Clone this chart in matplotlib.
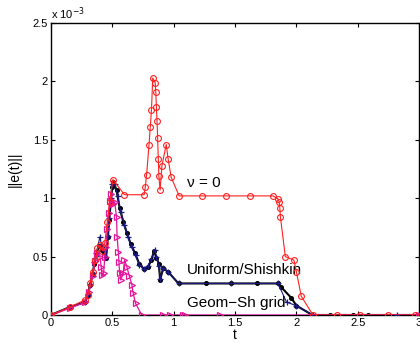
import matplotlib
matplotlib.use("Agg")
import matplotlib.pyplot as plt

# data (y in units of 1e-3)
t_red = [0, 0.16, 0.28, 0.30, 0.32, 0.34, 0.36, 0.38, 0.40, 0.42, 0.44, 0.46, 0.48, 0.505, 0.60, 0.76, 0.77, 0.78,
         0.80, 0.81, 0.82, 0.83, 0.85, 0.855, 0.86, 0.865, 0.87, 0.875, 0.88, 0.89, 0.905, 0.94, 0.955, 0.98, 1.045,
         1.23, 1.43, 1.62, 1.81, 1.85, 1.86, 1.865, 1.87, 1.91, 1.98, 2.00, 2.04, 2.135, 2.33, 2.52, 2.75, 2.97]
y_red = [0, 0.07, 0.13, 0.17, 0.27, 0.37, 0.47, 0.57, 0.60, 0.55, 0.62, 0.80, 0.97, 1.16, 1.03, 1.03, 1.10, 1.20,
         1.46, 1.61, 1.76, 2.03, 1.99, 1.91, 1.78, 1.66, 1.52, 1.34, 1.19, 1.07, 1.28, 1.46, 1.34, 1.18, 1.02,
         1.02, 1.02, 1.02, 1.02, 0.995, 0.97, 0.92, 0.84, 0.50, 0.47, 0.37, 0.16, 0, 0, 0, 0, 0]

t_blk = [0, 0.16, 0.28, 0.30, 0.32, 0.34, 0.355, 0.37, 0.39, 0.415, 0.43, 0.45, 0.465, 0.475, 0.49, 0.50, 0.51,
         0.535, 0.56, 0.59, 0.62, 0.65, 0.685, 0.72, 0.76, 0.79, 0.82, 0.84, 0.86, 0.88, 0.89, 0.915, 0.955, 1.04,
         1.26, 1.47, 1.68, 1.85, 1.875, 1.96, 2.0, 2.13, 2.27, 2.46, 2.58, 3.0]
y_blk = [0, 0.07, 0.11, 0.17, 0.26, 0.35, 0.44, 0.51, 0.59, 0.56, 0.54, 0.49, 0.67, 0.81, 0.98, 1.10, 1.14,
         1.07, 0.92, 0.80, 0.70, 0.61, 0.53, 0.44, 0.39, 0.41, 0.47, 0.55, 0.49, 0.44, 0.30, 0.40, 0.37, 0.27,
         0.27, 0.27, 0.27, 0.27, 0.24, 0.145, 0.08, 0, 0, 0, 0, 0]

t_blu = [0, 0.16, 0.28, 0.30, 0.32, 0.34, 0.355, 0.37, 0.40, 0.415, 0.43, 0.45, 0.465, 0.475, 0.49, 0.50, 0.52,
         0.545, 0.57, 0.60, 0.63, 0.66, 0.69, 0.72, 0.76, 0.79, 0.82, 0.845, 0.86, 0.88, 0.89, 0.915, 0.955, 1.04,
         1.47, 1.85, 1.92, 2.0, 2.13, 2.82, 3.0]
y_blu = [0, 0.07, 0.11, 0.17, 0.26, 0.36, 0.45, 0.53, 0.67, 0.58, 0.55, 0.50, 0.68, 0.83, 1.00, 1.12, 1.12,
         1.02, 0.88, 0.77, 0.67, 0.58, 0.51, 0.43, 0.39, 0.42, 0.48, 0.56, 0.50, 0.42, 0.31, 0.40, 0.37, 0.27,
         0.27, 0.27, 0.11, 0.08, 0, 0, 0]

t_mag = [0, 0.16, 0.28, 0.31, 0.34, 0.36, 0.38, 0.40, 0.41, 0.42, 0.43, 0.44, 0.45, 0.46, 0.47, 0.48, 0.49,
         0.505, 0.52, 0.535, 0.54, 0.55, 0.555, 0.56, 0.57, 0.59, 0.60, 0.62, 0.64, 0.66, 0.67, 0.69, 0.74,
         0.915, 0.97, 1.075, 1.09, 1.38, 3.0]
y_mag = [0, 0.06, 0.11, 0.20, 0.33, 0.46, 0.53, 0.50, 0.41, 0.34, 0.36, 0.50, 0.58, 0.74, 0.87, 0.98, 1.04,
         0.95, 0.97, 0.84, 0.67, 0.54, 0.45, 0.36, 0.30, 0.36, 0.47, 0.41, 0.33, 0.26, 0.19, 0.10, 0,
         0, 0, 0, 0, 0, 0]

x_ticks = [0, 0.5, 1, 1.5, 2, 2.5, 3]
x_ticklabels = ["0", "0.5", "1", "1.5", "2", "2.5", "3"]
y_ticks = [0, 0.5, 1, 1.5, 2, 2.5]
y_ticklabels = ["0", "0.5", "1", "1.5", "2", "2.5"]

plt.rcParams['font.family'] = ['Liberation Sans', 'DejaVu Sans']

fig = plt.figure(figsize=(4.2, 3.45), dpi=100)
ax = fig.add_axes([0.121, 0.087, 0.877, 0.846])

magenta = '#e3159a'
ax.plot(t_blk, y_blk, '-', color='black', lw=1.5, marker='o', ms=2.6, mfc='black', mec='black', zorder=2)
ax.plot(t_blu, y_blu, '-', color='#1a1a80', lw=0.8, marker='+', ms=4, mew=0.9, zorder=3)
ax.plot(t_mag, y_mag, '-', color=magenta, lw=0.9, marker='>', ms=4, mfc='none', mec=magenta, mew=0.9, zorder=4)
ax.plot(t_red, y_red, '-', color='#ff2020', lw=0.8, marker='o', ms=4.2, mfc='none', mec='#ff2020', mew=0.8, zorder=5)

ax.text(1.11, 1.13, 'ν = 0', fontsize=11, va='center', ha='left')
ax.text(1.11, 0.385, 'Uniform/Shishkin', fontsize=11, va='center', ha='left')
ax.text(1.11, 0.10, 'Geom\u2212Sh grid', fontsize=11, va='center', ha='left')

ax.set_xlim(0, 3)
ax.set_ylim(0, 2.5)
ax.set_xticks(x_ticks)
ax.set_xticklabels(x_ticklabels)
ax.set_yticks(y_ticks)
ax.set_yticklabels(y_ticklabels)
ax.tick_params(direction='in', top=True, right=True, labelsize=8, length=3, pad=2)
for s in ax.spines.values():
    s.set_linewidth(1.0)

ax.set_xlabel('t', fontsize=10, labelpad=0)
ax.set_ylabel('||e(t)||', fontsize=10, labelpad=8)
ax.text(0.0, 1.005, 'x 10$^{-3}$', transform=ax.transAxes, fontsize=8, ha='left', va='bottom')

fig.savefig('out.png', dpi=100)
